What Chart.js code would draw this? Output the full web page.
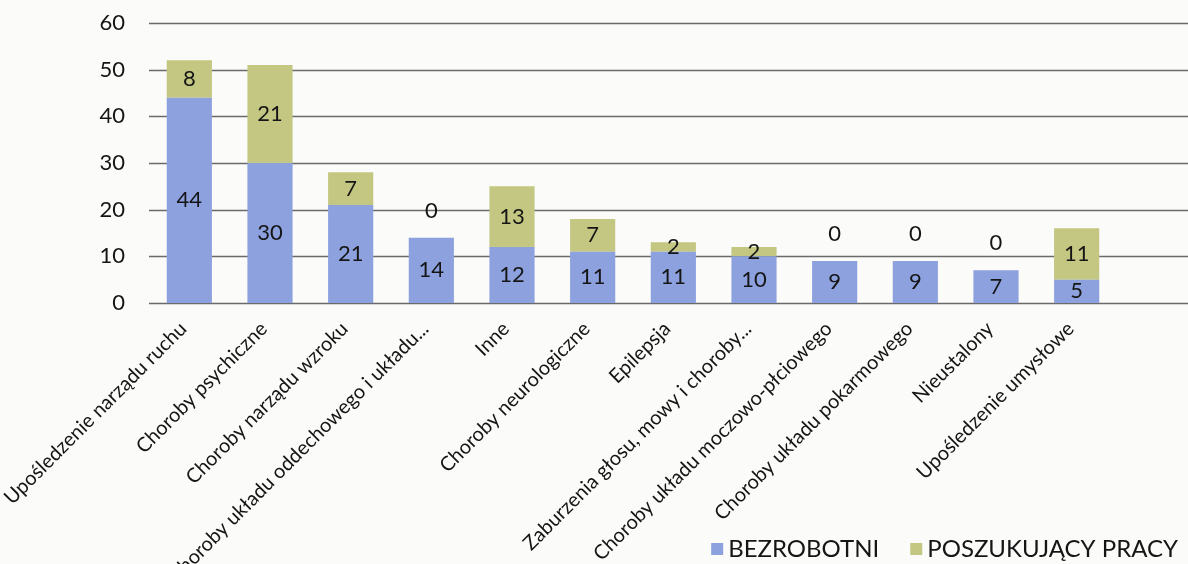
<!DOCTYPE html>
<html>
<head>
<meta charset="utf-8">
<script src="https://cdn.jsdelivr.net/npm/chart.js@4/dist/chart.umd.min.js"></script>
<style>
  html, body { margin: 0; padding: 0; background: #fbfbf9; }
  #wrap { width: 1188px; height: 564px; }
</style>
</head>
<body>
<div id="wrap"><canvas id="chart" width="1188" height="564"></canvas></div>
<script>
const CATEGORIES = [
    'Upośledzenie narządu ruchu',
    'Choroby psychiczne',
    'Choroby narządu wzroku',
    'Choroby układu oddechowego i układu...',
    'Inne',
    'Choroby neurologiczne',
    'Epilepsja',
    'Zaburzenia głosu, mowy i choroby...',
    'Choroby układu moczowo-płciowego',
    'Choroby układu pokarmowego',
    'Nieustalony',
    'Upośledzenie umysłowe',
];
const BEZROBOTNI = [44, 30, 21, 14, 12, 11, 11, 10, 9, 9, 7, 5];
const POSZUKUJACY = [8, 21, 7, 0, 13, 7, 2, 2, 0, 0, 0, 11];
const Y_MAX = 60;
const Y_STEP = 10;

const FONT = 'Lato, "Open Sans", sans-serif';
const BLUE = '#8ca1de';
const OLIVE = '#c4c782';
const GRID = '#6a6a6a';

// grid lines run past the last bar, to the right edge, as in the original
const gridPlugin = {
    id: 'gridLines',
    beforeDatasetsDraw(chart) {
        const { ctx, chartArea, scales } = chart;
        ctx.save();
        ctx.strokeStyle = GRID;
        ctx.lineWidth = 1.5;
        scales.y.ticks.forEach(t => {
            const y = Math.round(scales.y.getPixelForValue(t.value)) + 0.5;
            ctx.beginPath();
            ctx.moveTo(chartArea.left, y);
            ctx.lineTo(chart.width, y);
            ctx.stroke();
        });
        ctx.restore();
    },
};

const valueLabels = {
    id: 'valueLabels',
    afterDatasetsDraw(chart) {
        const { ctx } = chart;
        ctx.save();
        ctx.font = '22px ' + FONT;
        ctx.fillStyle = '#151515';
        ctx.textAlign = 'center';
        ctx.textBaseline = 'middle';
        chart.data.datasets.forEach((ds, i) => {
            chart.getDatasetMeta(i).data.forEach((bar, j) => {
                const v = ds.data[j];
                const { x, y, base } = bar.getProps(['x', 'y', 'base'], true);
                const ly = v === 0 ? y - 27 : (y + base) / 2;
                ctx.fillText(String(v), x, ly);
            });
        });
        ctx.restore();
    },
};

const legendPlugin = {
    id: 'cornerLegend',
    afterDraw(chart) {
        const { ctx } = chart;
        ctx.save();
        ctx.font = '24px ' + FONT;
        ctx.textBaseline = 'middle';
        const y = 549;
        let x = chart.width - 10;
        const items = chart.data.datasets.slice().reverse();
        items.forEach(ds => {
            const w = ctx.measureText(ds.label).width;
            x -= w;
            ctx.fillStyle = '#151515';
            ctx.fillText(ds.label, x, y);
            ctx.fillStyle = ds.backgroundColor;
            ctx.fillRect(x - 17, y - 6, 12, 12);
            x -= 48;
        });
        ctx.restore();
    },
};

new Chart(document.getElementById('chart'), {
    type: 'bar',
    data: {
        labels: CATEGORIES,
        datasets: [
            { label: 'BEZROBOTNI', data: BEZROBOTNI, backgroundColor: BLUE },
            { label: 'POSZUKUJĄCY PRACY', data: POSZUKUJACY, backgroundColor: OLIVE },
        ],
    },
    options: {
        responsive: false,
        animation: false,
        layout: { padding: { top: 23, right: 71, left: 0, bottom: 0 } },
        datasets: { bar: { barPercentage: 0.56, categoryPercentage: 1 } },
        plugins: {
            legend: { display: false },
            tooltip: { enabled: false },
        },
        scales: {
            x: {
                stacked: true,
                grid: { display: false, drawTicks: false },
                border: { display: false },
                ticks: {
                    font: { family: FONT, size: 20 },
                    color: '#151515',
                    minRotation: 45,
                    maxRotation: 45,
                    autoSkip: false,
                    labelOffset: -6,
                    padding: 14,
                },
                afterFit(scale) {
                    scale.height = 261;
                    scale.paddingLeft = 0;
                    scale.paddingRight = 0;
                },
            },
            y: {
                stacked: true,
                min: 0,
                max: Y_MAX,
                grid: { display: false, drawTicks: false },
                border: { display: false },
                ticks: {
                    stepSize: Y_STEP,
                    font: { family: FONT, size: 22 },
                    color: '#151515',
                    padding: 24,
                },
                afterFit(scale) {
                    scale.width = 149;
                    scale.paddingTop = 0;
                    scale.paddingBottom = 0;
                },
            },
        },
    },
    plugins: [gridPlugin, valueLabels, legendPlugin],
});
</script>
</body>
</html>
